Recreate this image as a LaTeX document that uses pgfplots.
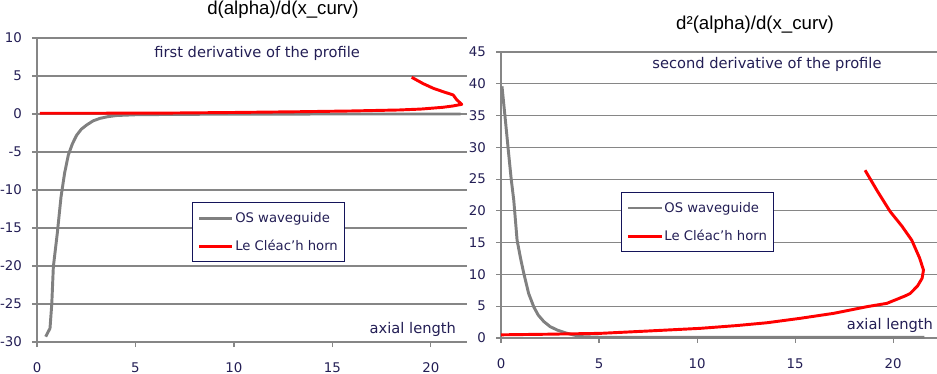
\documentclass[border=0pt]{standalone}
\usepackage{pgfplots}
\pgfplotsset{compat=1.18}
\usepackage{fontspec}
\setmainfont{DejaVu Sans}
\newfontfamily\titlefont{Liberation Sans}
\definecolor{txt}{RGB}{35,30,85}
\definecolor{grd}{RGB}{134,134,134}
\definecolor{osgray}{RGB}{128,128,128}
\definecolor{lered}{RGB}{255,0,0}
\definecolor{legbd}{RGB}{20,20,90}
\pgfplotsset{
  xlstyle/.style={
    scale only axis,
    axis x line*=bottom, axis y line*=left,
    axis line style={grd, line width=0.9pt, -},
    ymajorgrids, grid style={grd, line width=0.8pt},
    tick align=outside, major tick length=3.75pt,
    tick style={grd, line width=0.8pt},
    tick label style={font=\fontsize{10}{11}\selectfont, text=txt},
    xticklabel style={yshift=-8pt},
    yticklabel style={xshift=-4pt},
    xtick={0,5,10,15,20},
    xticklabels={0,5,10,15,20},
    clip=false,
    legend style={draw=legbd, line width=0.8pt, fill=white,
      font=\fontsize{9.9}{11}\selectfont, text=txt,
      anchor=north west, inner xsep=4pt, inner ysep=6pt,
      row sep=10pt, nodes={inner sep=1pt}},
    legend cell align=left,
    legend image code/.code={\draw[#1] (0pt,0pt) -- (25pt,0pt);},
  },
}
\begin{document}
\begin{tikzpicture}
\useasboundingbox (0,0) rectangle (702.75pt,280.5pt);
% left panel
\begin{axis}[xlstyle,
  at={(27.75pt,24pt)}, anchor=south west,
  width=322.5pt, height=228pt,
  xmin=0, xmax=21.83, ymin=-30, ymax=10,
  ytick={-30,-25,-20,-15,-10,-5,0,5,10},
  yticklabels={-30,-25,-20,-15,-10,-5,0,5,10},
  legend style={at={(rel axis cs:0.36,0.46)}},
]
\addplot[osgray, line width=2.2pt, line join=round] coordinates {
(0.44,-29.3) (0.66,-28.2) (0.75,-25) (0.83,-20.1) (1.03,-15.7) (1.22,-10.9)
(1.4,-7.8) (1.59,-5.4) (1.8,-3.9) (2.01,-2.8) (2.25,-2.0) (2.52,-1.45)
(2.85,-0.9) (3.2,-0.57) (3.6,-0.35) (4.04,-0.2) (5,-0.1) (7,-0.05)
(10,-0.02) (15,0) (21.5,0)};
\addlegendentry{OS waveguide}
\addplot[lered, line width=2.2pt, line join=round] coordinates {
(0.15,0.1) (3,0.1) (6.6,0.12) (10,0.2) (13.35,0.3) (16,0.4) (18.4,0.53)
(19.5,0.65) (20.6,0.88) (21.1,1.05) (21.56,1.27) (21.3,1.9) (21.13,2.5)
(20.6,2.95) (20.12,3.38) (19.6,4.0) (19.02,4.83)};
\addlegendentry{Le Cléac'h horn}
\node[text=txt, font=\fontsize{11}{12}\selectfont] at (rel axis cs:0.512,0.95) {first derivative of the profile};
\node[text=txt, font=\fontsize{11}{12}\selectfont] at (rel axis cs:0.874,0.04) {axial length};
\end{axis}
% right panel
\fill[white] (350.25pt,0pt) rectangle (702.75pt,280.5pt);
\begin{axis}[xlstyle,
  at={(375.75pt,27pt)}, anchor=south west,
  width=327pt, height=214.5pt,
  xmin=0, xmax=22.24, ymin=0, ymax=45,
  ytick={0,5,10,15,20,25,30,35,40,45},
  yticklabels={0,5,10,15,20,25,30,35,40,45},
  legend style={at={(rel axis cs:0.275,0.51)}},
]
\addplot[osgray, line width=2.2pt, line join=round] coordinates {
(0.05,39.6) (0.2,35) (0.39,29.0) (0.52,25) (0.65,21.7) (0.82,15.4) (1.0,12.5)
(1.16,10.2) (1.41,7.0) (1.67,4.9) (1.9,3.6) (2.18,2.6) (2.5,1.8) (2.86,1.26)
(3.3,0.8) (3.7,0.47) (4.2,0.2) (5,0.12) (7,0.1) (21.6,0.1)};
\addlegendentry{OS waveguide}
\addplot[lered, line width=2.2pt, line join=round] coordinates {
(0,0.5) (2.5,0.6) (5.07,0.73) (7.5,1.1) (10.17,1.52) (12,1.95) (13.57,2.4)
(15.27,3.1) (16.97,3.88) (18.67,4.93) (19.68,5.45) (20.2,6.1) (20.6,6.6)
(20.87,7.0) (21.25,8.2) (21.48,9.4) (21.55,10.7) (21.35,12.6) (20.95,15.4)
(20.45,17.6) (19.85,19.9) (19.2,23.1) (18.57,26.4)};
\addlegendentry{Le Cléac'h horn}
\node[text=txt, font=\fontsize{11}{12}\selectfont] at (rel axis cs:0.61,0.955) {second derivative of the profile};
\node[text=txt, font=\fontsize{11}{12}\selectfont] at (rel axis cs:0.892,0.045) {axial length};
\end{axis}
\node[font=\titlefont\fontsize{14}{15}\selectfont] at (212.25pt,273pt) {d(alpha)/d(x\_curv)};
\node[font=\titlefont\fontsize{14}{15}\selectfont] at (566.25pt,261.75pt) {d²(alpha)/d(x\_curv)};
\end{tikzpicture}
\end{document}
